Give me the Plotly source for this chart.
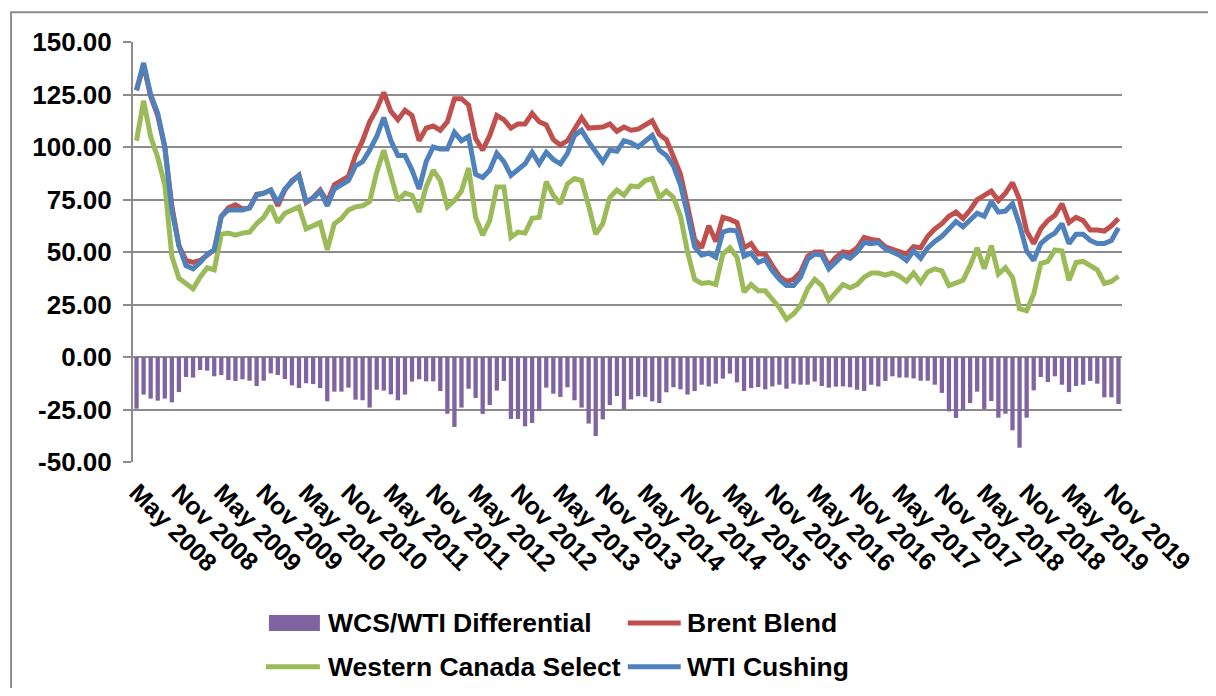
import pandas as pd
import plotly.graph_objects as go

# ---------------- data (monthly, May 2008 - Dec 2019) ----------------
months = pd.period_range("2008-05", "2019-12", freq="M").strftime("%b %Y").tolist()

wti = [127, 140, 125, 116, 100, 70, 53, 43.5, 42, 45,
       49, 51, 67, 70, 70, 70, 71, 77, 78, 79.5,
       73.5, 80, 83.5, 86.5, 74, 75.5, 79, 72, 80, 82,
       84, 91, 93, 98.5, 105, 114, 103, 96, 96, 89,
       80, 93, 100, 99, 99, 107, 103, 105, 87, 85.5,
       89, 97, 93, 86.5, 89, 92, 97.5, 92, 97.5, 94,
       92, 97, 105.5, 108, 102.5, 97.5, 93, 98.5, 98, 103,
       102, 100, 103, 105.5, 98.5, 96, 91, 82, 68, 52.5,
       48.5, 49.5, 47.5, 59.5, 60.5, 60, 48, 49.5, 45, 46.5,
       41, 37, 34, 34, 38, 46.5, 49, 48.5, 42, 45,
       48.5, 47, 50, 54.5, 54, 54.5, 51.5, 50, 48.5, 46,
       50.5, 47, 52, 55, 57.5, 61, 64.5, 62, 65, 68.5,
       67, 74, 69, 69.5, 73, 63, 50.5, 46, 54, 57,
       59, 63.5, 54, 58.5, 58.5, 55.5, 54, 54, 55.5, 61.5]

brent = [127, 139, 124, 115, 100, 72, 53, 46, 45, 46,
         48.5, 51, 67, 71, 72.5, 70.5, 71, 77.5, 78, 79.5,
         72, 79.5, 84, 86.5, 73.5, 76, 79.5, 74, 82, 84,
         86, 96, 103, 112, 118, 126, 117, 113, 117.5, 115,
         103, 109, 110, 108, 112, 123, 123, 120, 104, 98.5,
         105.5, 115, 113, 109, 111, 111, 116, 112, 110.5, 103.5,
         101, 103, 109, 114, 109, 109, 109.5, 111, 107.5, 109.5,
         108, 108.5, 110.5, 112.5, 106, 103.5, 95.5, 87, 72, 56,
         52, 62.5, 55, 66.5, 65.5, 64, 52, 54, 49, 49,
         43.5, 38.5, 36, 37, 40.5, 48, 50, 50, 43.5, 47.5,
         50, 49.5, 52, 57, 56, 55.5, 52.5, 51.5, 50.5, 49,
         52.5, 52, 57.5, 61, 63.5, 67, 69, 66, 70, 75,
         77, 79, 74.5, 78, 83, 75, 60, 54, 61, 65,
         67.5, 73, 64, 66.5, 65, 60.5, 60.5, 60, 62.5, 66]

wcs = [103, 122, 105, 95, 82, 48, 37.5, 35, 32.5, 38,
       42.5, 41.5, 58.5, 59, 58, 59, 59.5, 63.5, 66.5, 72,
       64, 68.5, 70, 71.5, 61, 62.5, 64, 51, 63.5, 66,
       70, 71.5, 72, 74, 88, 98.5, 87, 74.5, 78, 77,
       69, 81, 89, 84, 71.5, 74.5, 79, 90, 66.5, 58,
       65, 81, 81, 57, 59.5, 59, 66, 66.5, 83.5, 77,
       73, 82.5, 85, 84, 72, 58.5, 63.5, 76, 79.5, 77,
       81.5, 81, 84, 85, 76, 79, 76, 67, 50, 37,
       35, 35.5, 34.5, 49, 52, 47.5, 31, 34.5, 31.5, 31.5,
       27.5, 23.5, 18, 20.5, 24.5, 32.5, 37, 34, 27, 30.5,
       34.5, 33, 34.5, 38, 40, 40, 39, 40, 38.5, 36,
       40, 35.5, 40.5, 42, 41, 34, 35.5, 36.5, 43.5, 52,
       42, 53, 39.5, 42.5, 38, 23, 22, 30, 44.5, 45.5,
       51, 50.5, 36.5, 45, 45.5, 43.5, 41.5, 35, 36, 38.5]

differential = [-24.6, -17.9, -19.8, -20.8, -19.8, -21.6, -16.7, -9.5, -9.8, -6.2,
                -6.5, -9.2, -8.6, -11, -11.4, -10.6, -11.3, -13.8, -11.3, -7.8,
                -8.6, -10.5, -13.5, -14.8, -12.5, -12.9, -14.8, -21.1, -16.5, -16.5,
                -14.6, -20.3, -20.6, -24.1, -15.6, -16, -17.8, -20.6, -17.9, -11.7,
                -10.6, -11.6, -11.6, -16.2, -27, -33.3, -24.1, -15.1, -19.5, -27.1,
                -22.9, -16, -11.4, -29.5, -29.5, -33, -31.4, -25.7, -14.6, -17.5,
                -19, -14.4, -20.6, -24.1, -31.7, -37.6, -29.7, -22.9, -18.6, -25.1,
                -20.2, -18.7, -19, -21.1, -21.9, -16.8, -14.4, -15.4, -17.9, -16.2,
                -13.2, -14, -12.7, -10.3, -7.9, -12.1, -16.2, -14.8, -14.3, -15.4,
                -14, -13.2, -15.1, -12.7, -13.2, -13.2, -11.7, -13.8, -14.6, -14.1,
                -14, -14.4, -15.6, -16.2, -13.2, -14, -11.4, -9.2, -9.8, -9.8,
                -10.2, -11.3, -11.3, -13.2, -17.1, -25.9, -29, -25.1, -21.9, -16.5,
                -24.8, -21, -28.9, -27, -34.9, -43.2, -28.9, -15.9, -9.5, -11.9,
                -9.2, -13.2, -16.7, -13.8, -13.2, -11.4, -12.7, -19.2, -19.2, -22.4]

y_ticks = [-50, -25, 0, 25, 50, 75, 100, 125, 150]
x_tick_labels = months[::6]

series_names = ["WCS/WTI Differential", "Brent Blend", "Western Canada Select", "WTI Cushing"]

# ---------------- styling ----------------
# the page body has an 8px margin, so the figure is 1200x680 and all pixel
# positions below are page positions minus 8.
OFF = 8
W, H = 1200, 680
L, R, T, B = 133 - OFF, 1122.5 - OFF, 41.7 - OFF, 462 - OFF
FONT = "Liberation Sans, Arial, sans-serif"
GRID = "#8c8c8c"
C_DIFF, C_BRENT, C_WCS, C_WTI = "#8064A2", "#C0504D", "#9BBB59", "#4F81BD"


def pxx(x):
    """page x pixel -> paper coordinate"""
    return (x - OFF - L) / (R - L)


def pyy(y):
    """page y pixel -> paper coordinate"""
    return (B - (y - OFF)) / (B - T)


fig = go.Figure()
fig.add_trace(go.Bar(x=months, y=differential, name=series_names[0],
                     marker=dict(color=C_DIFF, line=dict(width=0))))
fig.add_trace(go.Scatter(x=months, y=brent, name=series_names[1], mode="lines",
                         line=dict(color=C_BRENT, width=5)))
fig.add_trace(go.Scatter(x=months, y=wcs, name=series_names[2], mode="lines",
                         line=dict(color=C_WCS, width=5)))
fig.add_trace(go.Scatter(x=months, y=wti, name=series_names[3], mode="lines",
                         line=dict(color=C_WTI, width=5)))

fig.update_layout(
    width=W, height=H,
    margin=dict(l=L, r=W - R, t=T, b=H - B, pad=0),
    paper_bgcolor="white", plot_bgcolor="white",
    bargap=0.39, showlegend=False,
    font=dict(family=FONT, color="black"),
)
fig.update_xaxes(
    type="category", range=[-0.5, len(months) - 0.5],
    tickmode="array", tickvals=x_tick_labels, ticktext=x_tick_labels,
    tickangle=45, tickfont=dict(family=FONT, size=25, weight="bold", color="black"),
    showgrid=False, zeroline=False, showline=False, ticks="",
    ticklabelstandoff=10,
)
fig.update_yaxes(
    range=[-50, 150], tickmode="array", tickvals=y_ticks,
    ticktext=[f"{v:.2f}" for v in y_ticks],
    tickfont=dict(family=FONT, size=26, weight="bold", color="black"),
    showgrid=True, gridcolor=GRID, gridwidth=2, zeroline=False,
    showline=True, linecolor=GRID, linewidth=2,
    ticks="outside", ticklen=8, tickcolor=GRID, tickwidth=2,
    ticklabelstandoff=6,
)

shapes = []
annotations = []
# outer frame (extends past the right and bottom edges of the picture)
shapes.append(dict(type="rect", xref="paper", yref="paper",
                   x0=pxx(11), x1=pxx(1240), y0=pyy(720), y1=pyy(12),
                   line=dict(color="#8c8c8c", width=2), fillcolor="rgba(0,0,0,0)", layer="below"))

# custom legend
row1, row2 = 623, 667
shapes.append(dict(type="rect", xref="paper", yref="paper",
                   x0=pxx(269), x1=pxx(320), y0=pyy(631), y1=pyy(615),
                   line=dict(width=0), fillcolor=C_DIFF))
for (x0, x1, yy, col) in [(628, 681, row1, C_BRENT), (266, 320, row2, C_WCS), (628, 681, row2, C_WTI)]:
    shapes.append(dict(type="line", xref="paper", yref="paper",
                       x0=pxx(x0), x1=pxx(x1), y0=pyy(yy), y1=pyy(yy),
                       line=dict(color=col, width=5)))
for (xx, yy, txt) in [(326, row1, series_names[0]), (685, row1, series_names[1]),
                      (326, row2, series_names[2]), (685, row2, series_names[3])]:
    annotations.append(dict(xref="paper", yref="paper", x=pxx(xx), y=pyy(yy),
                            xanchor="left", yanchor="middle", showarrow=False, text=txt,
                            font=dict(family=FONT, size=26.5, weight="bold", color="black")))

fig.update_layout(shapes=shapes, annotations=annotations)

fig.write_html("out.html")
